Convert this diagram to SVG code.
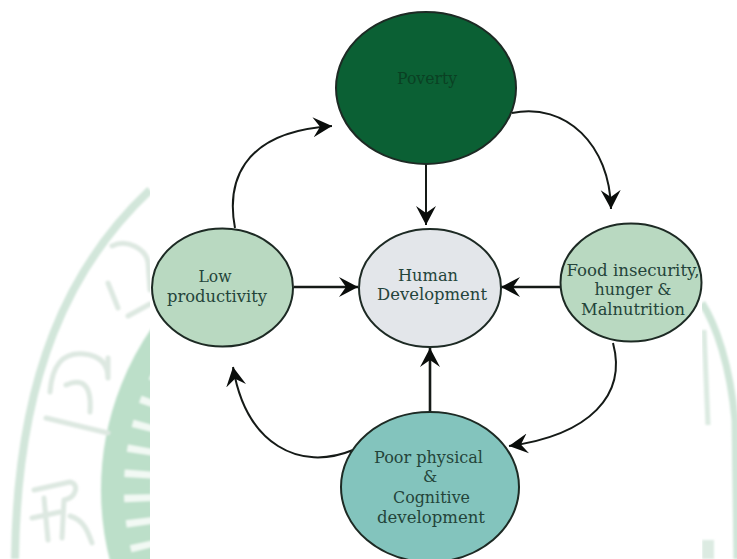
<svg xmlns="http://www.w3.org/2000/svg" width="737" height="559" viewBox="0 0 737 559">
  <style>
    .node { stroke: #1d2a24; stroke-width: 2; }
    .label { font-family: "DejaVu Serif", "Liberation Serif", serif; font-size: 16px; fill: #24443a; text-anchor: middle; }
    .conn { fill: none; stroke: #151a17; stroke-width: 2; marker-end: url(#head); }
    .thick { stroke-width: 2.6; }
    .wm { fill: none; stroke: #dde8e1; stroke-width: 5; stroke-linecap: round; stroke-linejoin: round; }
  </style>
  <defs>
    <marker id="head" markerUnits="userSpaceOnUse" markerWidth="20" markerHeight="22" viewBox="0 -11 20 22" refX="19" refY="0" orient="auto">
      <path d="M0,-10 L19,0 L0,10 L7,0 Z" fill="#0a0d0b"/>
    </marker>
    <clipPath id="sides">
      <rect x="0" y="0" width="150" height="559"/>
      <rect x="702" y="0" width="35" height="559"/>
    </clipPath>
    <filter id="soft" x="-5%" y="-5%" width="110%" height="110%"><feGaussianBlur stdDeviation="1"/></filter>
  </defs>
  <rect width="737" height="559" fill="#ffffff"/>
  <g id="watermark" clip-path="url(#sides)" filter="url(#soft)">
    <path d="M150 190 C70 265 17 375 15 559" fill="none" stroke="#d2e6da" stroke-width="8"/>
    <circle cx="385" cy="490" r="259" fill="none" stroke="#bcdfc9" stroke-width="50"/>
    <circle cx="385" cy="490" r="247" fill="none" stroke="#f2f9f4" stroke-width="28" stroke-dasharray="7 17" stroke-dashoffset="4"/>
    <path d="M702 303 C716 325 730 365 735 420 L737 559" fill="none" stroke="#cfe5d8" stroke-width="7"/>
    <path class="wm" d="M108 283 L118 308 M112 246 C128 238 146 250 148 262 L150 290 M128 316 L150 304"/>
    <path class="wm" d="M46 418 L108 433 M50 392 C52 366 62 352 84 354 C102 356 108 366 108 378 L108 358 M66 385 C82 378 92 384 90 412"/>
    <path class="wm" d="M32 518 L60 512 M34 490 L70 482 C80 484 76 498 64 500 L62 538 M44 498 L48 540 M70 516 C84 520 88 532 92 543"/>
    <path d="M704 330 L708 425" fill="none" stroke="#dbeae1" stroke-width="5"/>
    <rect x="702" y="540" width="12" height="19" fill="#dcebe2"/>
  </g>
  <g id="connectors">
    <path class="conn" d="M426 164 L426 225"/>
    <path class="conn thick" d="M294 287 L358 287"/>
    <path class="conn thick" d="M560 287 L501 287"/>
    <path class="conn thick" d="M430 412 L430 348"/>
    <path class="conn" d="M235 228 C227 186 238 132 332 126"/>
    <path class="conn" d="M512 113 C566 102 610 145 611 209"/>
    <path class="conn" d="M613 343 C627 395 590 435 509 446"/>
    <path class="conn" d="M353 450 C300 472 246 445 233 367"/>
  </g>
  <g id="poverty">
    <ellipse class="node" cx="426" cy="88" rx="90" ry="76" fill="#0b6034"/>
    <text class="label" x="427" y="84" style="fill:#0a4023" textLength="60" lengthAdjust="spacingAndGlyphs">Poverty</text>
  </g>
  <g id="human-development">
    <ellipse class="node" cx="430" cy="288" rx="71" ry="59" fill="#e3e6ea"/>
    <text class="label" x="428" y="281" textLength="60" lengthAdjust="spacingAndGlyphs">Human</text>
    <text class="label" x="432" y="300" textLength="110" lengthAdjust="spacingAndGlyphs">Development</text>
  </g>
  <g id="food-insecurity">
    <ellipse class="node" cx="631" cy="282.500" rx="70.500" ry="59" fill="#b9d9c1"/>
    <text class="label" x="633" y="276" textLength="133" lengthAdjust="spacingAndGlyphs">Food insecurity,</text>
    <text class="label" x="633" y="295" textLength="77" lengthAdjust="spacingAndGlyphs">hunger &amp;</text>
    <text class="label" x="633" y="315" textLength="104" lengthAdjust="spacingAndGlyphs">Malnutrition</text>
  </g>
  <g id="low-productivity">
    <ellipse class="node" cx="222.500" cy="287.500" rx="70.500" ry="59" fill="#b9d9c1"/>
    <text class="label" x="215" y="282" textLength="33" lengthAdjust="spacingAndGlyphs">Low</text>
    <text class="label" x="217" y="302" textLength="100" lengthAdjust="spacingAndGlyphs">productivity</text>
  </g>
  <g id="poor-physical">
    <ellipse class="node" cx="430" cy="487" rx="89" ry="75" fill="#83c4bd"/>
    <text class="label" x="428.500" y="463" textLength="109" lengthAdjust="spacingAndGlyphs">Poor physical</text>
    <text class="label" x="430" y="482">&amp;</text>
    <text class="label" x="431.500" y="503" textLength="77" lengthAdjust="spacingAndGlyphs">Cognitive</text>
    <text class="label" x="431" y="523" textLength="108" lengthAdjust="spacingAndGlyphs">development</text>
  </g>
</svg>
